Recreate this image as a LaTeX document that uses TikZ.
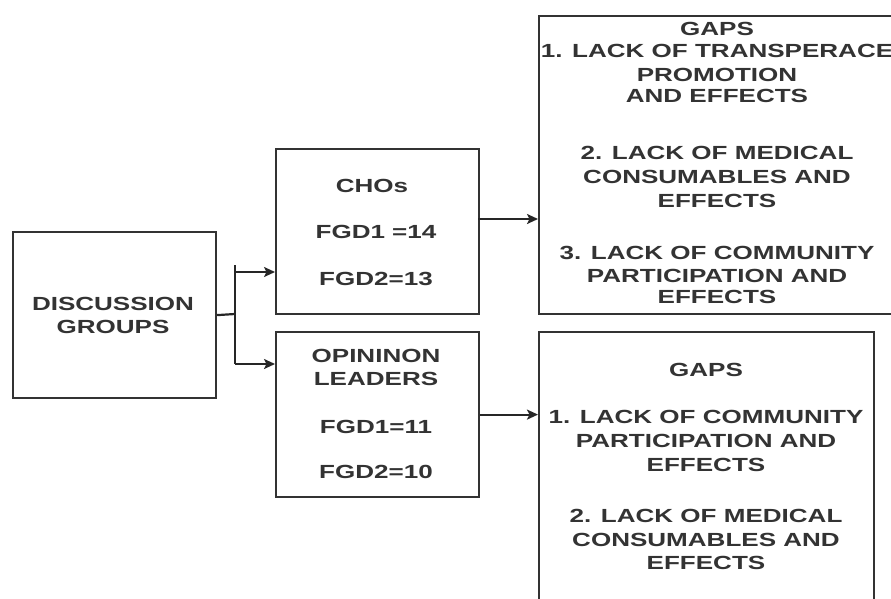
\documentclass[tikz,border=0pt]{standalone}
\usepackage{fontspec}
\setmainfont{Liberation Sans Bold}[FakeStretch=1.37]
\usetikzlibrary{arrows.meta}
\begin{document}
\begin{tikzpicture}[x=1pt,y=-1pt,
  box/.style={draw=black!80,line width=2.2pt,inner sep=0pt,anchor=north west},
  txt/.style={anchor=base,inner sep=0pt,text=black!80,font=\fontsize{19}{23}\selectfont},
  link/.style={draw=black!85,line width=2.2pt},
  arr/.style={link,-{Stealth[length=11pt,width=10pt,inset=2.5pt]}}]
\clip (0,0) rectangle (891,599);
\fill[white] (0,0) rectangle (891,599);
% boxes
\node[box,minimum width=203pt,minimum height=166pt] (dg) at (12,231) {};
\node[box,minimum width=203pt,minimum height=165pt] (cho) at (275,148) {};
\node[box,minimum width=203pt,minimum height=165pt] (op) at (275,331) {};
\node[box,minimum width=380pt,minimum height=298pt] (g1) at (538,15) {};
\node[box,minimum width=335pt,minimum height=290pt] (g2) at (538,331) {};
% texts
\node[txt] (dg1) at (113,310) {DISCUSSION};
\node[txt] (dg2) at (113,333) {GROUPS};
\node[txt] (ch1) at (372,192) {CHOs};
\node[txt] (ch2) at (376,238) {FGD1 =14};
\node[txt] (ch3) at (376,285) {FGD2=13};
\node[txt] (op1) at (376,362) {OPININON};
\node[txt] (op2) at (376,385) {LEADERS};
\node[txt] (op3) at (376,433) {FGD1=11};
\node[txt] (op4) at (376,478) {FGD2=10};
\node[txt] (ga0) at (717,36) {GAPS};
\node[txt] (ga1) at (717,58) {1. LACK OF TRANSPERACE};
\node[txt] (ga2) at (717,82) {PROMOTION};
\node[txt] (ga3) at (717,103) {AND EFFECTS};
\node[txt] (ga4) at (717,159) {2. LACK OF MEDICAL};
\node[txt] (ga5) at (717,183) {CONSUMABLES AND};
\node[txt] (ga6) at (717,207) {EFFECTS};
\node[txt] (ga7) at (717,259) {3. LACK OF COMMUNITY};
\node[txt] (ga8) at (717,282) {PARTICIPATION AND};
\node[txt] (ga9) at (717,303) {EFFECTS};
\node[txt] (gb0) at (706,376) {GAPS};
\node[txt] (gb1) at (706,423) {1. LACK OF COMMUNITY};
\node[txt] (gb2) at (706,447) {PARTICIPATION AND};
\node[txt] (gb3) at (706,471) {EFFECTS};
\node[txt] (gb4) at (706,522) {2. LACK OF MEDICAL};
\node[txt] (gb5) at (706,546) {CONSUMABLES AND};
\node[txt] (gb6) at (706,569) {EFFECTS};
% connectors
\coordinate (j) at (235,314);
\coordinate (jt) at (235,265);
\coordinate (ja) at (235,272);
\coordinate (jb) at (235,364);
\coordinate (ca) at (478,219);
\draw[link] (dg.east) -- (j);
\draw[link] (jt) -- (jb);
\draw[arr] (ja) -- (ja -| cho.west);
\draw[arr] (jb) -- (jb -| op.west);
\draw[arr] (ca) -- (ca -| g1.west);
\draw[arr] (op.east) -- (op.east -| g2.west);
\end{tikzpicture}
\end{document}
